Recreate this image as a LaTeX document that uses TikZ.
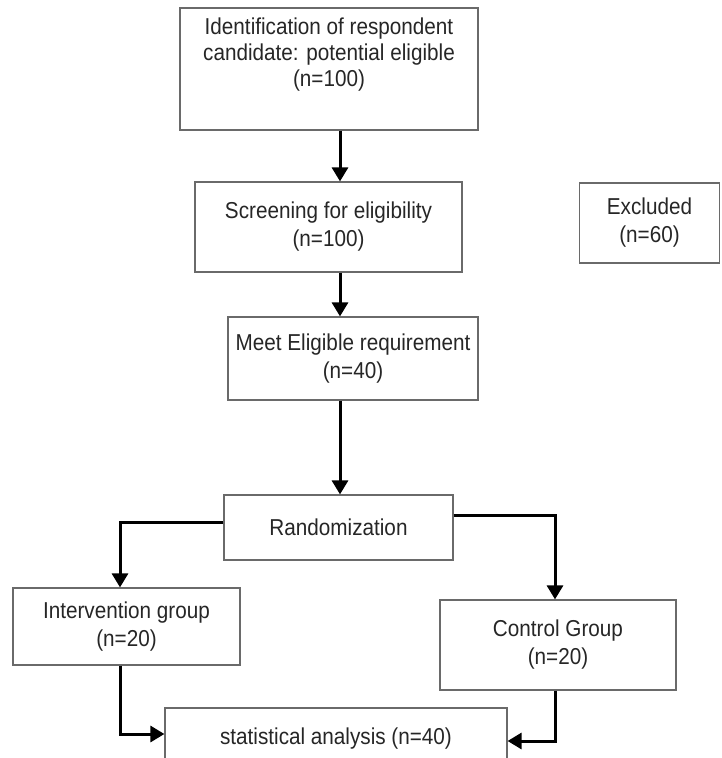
\documentclass[tikz,border=0pt]{standalone}
\usepackage{fontspec}
\setmainfont[FakeStretch=0.9]{Liberation Sans}
\usetikzlibrary{arrows.meta, positioning}
\definecolor{Frame}{HTML}{6A6A6A}
\definecolor{Ink}{HTML}{262626}
\tikzset{
  stage/.style={draw=Frame, line width=1.2pt, fill=white, align=center, inner sep=0pt,
    font=\fontsize{23}{28}\selectfont, text=Ink},
  flow/.style={-{Triangle[width=16pt, length=14pt]}, line width=3pt, color=black},
}
\begin{document}
\begin{tikzpicture}[x=1pt, y=-1pt]
  \clip (0,0) rectangle (721,758);
  % branch lines
  \coordinate (spine) at (340,0);
  \coordinate (lbranch) at (120,0);
  \coordinate (rbranch) at (555,0);

  % Boxes
  \node[stage, minimum width=298pt, minimum height=122pt] (ident) at (329,69)
    {Identification of respondent\\[-2pt]candidate: potential eligible\\[-2pt](n=100)\\[6pt]~};
  \node[stage, minimum width=267pt, minimum height=90pt] (screen) at (328.5,227)
    {Screening for eligibility\\(n=100)};
  \node[stage, minimum width=140pt, minimum height=80pt] (excluded) at (649.5,223)
    {Excluded\\(n=60)};
  \node[stage, minimum width=250pt, minimum height=83pt] (meet) at (353,358.5)
    {Meet Eligible requirement\\(n=40)};
  \node[stage, minimum width=229pt, minimum height=65pt] (random) at (338.5,527.5)
    {Randomization};
  \node[stage, minimum width=227pt, minimum height=77pt] (interv) at (126.5,626.5)
    {Intervention group\\(n=20)};
  \node[stage, minimum width=236pt, minimum height=90pt] (control) at (558,645)
    {Control Group\\(n=20)};
  \node[stage, minimum width=342pt, minimum height=62pt] (stats) at (336,739)
    {statistical analysis (n=40)};

  % Main column
  \draw[flow] (ident.south -| spine) -- (screen.north -| spine);
  \draw[flow] (screen.south -| spine) -- (meet.north -| spine);
  \draw[flow] (meet.south -| spine) -- (random.north -| spine);

  % Split into groups
  \draw[flow] ([yshift=5pt]random.west) -| (interv.north -| lbranch);
  \draw[flow] ([yshift=12pt]random.east) -| (control.north -| rbranch);

  % Join for analysis
  \draw[flow] (interv.south -| lbranch) |- ([yshift=5pt]stats.west);
  \draw[flow] (control.south -| rbranch) |- ([yshift=-2pt]stats.east);
\end{tikzpicture}
\end{document}
